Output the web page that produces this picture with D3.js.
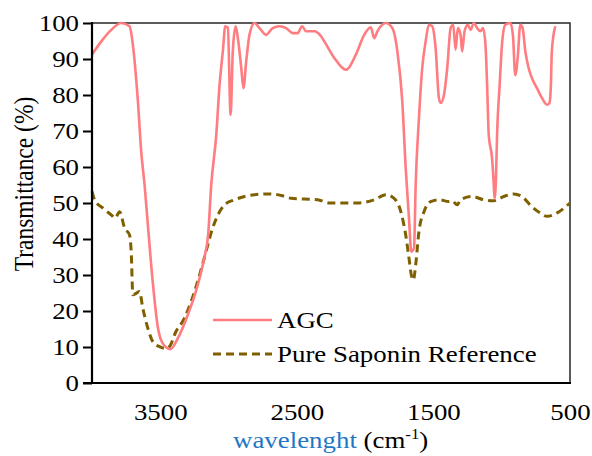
<!DOCTYPE html>
<html>
<head>
<meta charset="utf-8">
<script src="https://cdn.jsdelivr.net/npm/d3@7"></script>
<style>
  html, body { margin: 0; padding: 0; background: #fff; }
  svg { display: block; }
  svg text { font-family: "Liberation Serif", "Times New Roman", Times, "DejaVu Serif", serif; fill: #000; }
</style>
</head>
<body>
<svg id="chart" width="592" height="456"></svg>
<script>
// ---- Data ----
const seriesNames = ["AGC", "Pure Saponin Reference"];
const xTicks = [3500, 2500, 1500, 500];
const yTicks = [0, 10, 20, 30, 40, 50, 60, 70, 80, 90, 100];

const agcWavenumber = [4000, 3932, 3859, 3786, 3725, 3701, 3664, 3640, 3615, 3591, 3555, 3518, 3482, 3426, 3372, 3299, 3226, 3178, 3150, 3127, 3090, 3066, 3042, 3024, 3005, 2985, 2969, 2949, 2932, 2907, 2891, 2871, 2847, 2810, 2774, 2725, 2677, 2628, 2579, 2530, 2494, 2462, 2433, 2372, 2323, 2299, 2226, 2141, 2068, 2007, 1958, 1934, 1910, 1849, 1801, 1764, 1728, 1703, 1679, 1662, 1642, 1630, 1606, 1582, 1557, 1533, 1509, 1484, 1460, 1447, 1423, 1399, 1374, 1355, 1338, 1321, 1301, 1290, 1272, 1248, 1228, 1204, 1180, 1156, 1137, 1119, 1107, 1095, 1071, 1058, 1053, 1042, 1034, 1015, 998, 974, 937, 918, 901, 883, 864, 847, 827, 803, 779, 742, 706, 669, 650, 640, 633, 608];
const agcTransmittance = [91.2, 94.9, 98.1, 100, 99.1, 94, 78.3, 64.4, 55, 43.9, 28, 15.5, 11, 9.4, 12.4, 18.9, 27.2, 34.7, 41, 55, 69, 82.8, 92.1, 99.1, 98.6, 74.5, 92.1, 99.1, 95.8, 87.5, 81.9, 89.3, 96.7, 100, 98.6, 96.7, 98.6, 99.1, 98.6, 97.2, 97.2, 99.1, 97.7, 97.7, 96.3, 94.9, 90.3, 87, 91.2, 96.7, 98.8, 95.8, 97.7, 100, 98.6, 92.1, 78.2, 59.7, 45.8, 36.5, 37.4, 55, 73.6, 87.5, 94.9, 99.5, 99.1, 93, 79.2, 77.8, 80, 87.5, 98.6, 99.5, 92.6, 98.6, 96.7, 92.1, 97.7, 99.5, 98.1, 100, 98.6, 97.7, 98.6, 94, 82.8, 69, 62.5, 55, 51.3, 56.9, 69, 82.8, 94, 99.5, 100, 96.7, 85.5, 90.3, 99.5, 98.6, 92.1, 87.5, 84.7, 81.9, 79.2, 77.3, 77.8, 82.8, 92.1, 99.1];

const sapWavenumber = [4000, 3981, 3920, 3859, 3830, 3798, 3761, 3725, 3713, 3701, 3677, 3652, 3628, 3591, 3555, 3506, 3458, 3433, 3385, 3323, 3275, 3226, 3178, 3117, 3078, 3029, 2956, 2883, 2810, 2713, 2615, 2542, 2445, 2348, 2263, 2153, 2056, 1934, 1849, 1788, 1739, 1703, 1679, 1662, 1647, 1630, 1606, 1569, 1520, 1460, 1387, 1363, 1326, 1301, 1217, 1131, 1058, 985, 912, 852, 779, 717, 669, 597, 500];
const sapTransmittance = [53.2, 50.9, 48.6, 46.7, 45.8, 47.6, 43, 41.1, 36.5, 24.5, 24.9, 25.4, 20.8, 15.2, 11.5, 10.1, 9.6, 10.1, 14.3, 18, 22.6, 28.2, 34.7, 43, 46.7, 49.5, 50.9, 51.8, 52.3, 52.5, 52.1, 51.3, 51.1, 50.9, 50, 50, 50, 50.9, 52.3, 51.3, 47.6, 41.1, 34.7, 30, 28.6, 32.8, 42.1, 47.6, 50.4, 50.9, 50.4, 50.6, 49.5, 50.9, 51.8, 50.9, 50.6, 51.8, 52.5, 51.8, 49, 47.2, 46.3, 47.2, 50];

// ---- Layout ----
const FONT = '"Liberation Serif", "Times New Roman", Times, "DejaVu Serif", serif';
const svg = d3.select("#chart");
const L = 92, R = 570, T = 23, B = 383;
const FS = 24;
const SX = 1.12; // horizontal stretch of the text in the reference
const redColor = "#FF7C80";
const brownColor = "#7F6000";

const x = d3.scaleLinear().domain([4000, 500]).range([L, R]);
const y = d3.scaleLinear().domain([0, 100]).range([B, T]);

// plot frame
svg.append("rect")
  .attr("x", L).attr("y", T).attr("width", R - L).attr("height", B - T)
  .attr("fill", "none").attr("stroke", "#333").attr("stroke-width", 1.6);

const line = d3.line().x(d => x(d[0])).y(d => y(d[1])).curve(d3.curveMonotoneX);

const agcData = agcWavenumber.map((w, i) => [w, agcTransmittance[i]]);
const sapData = sapWavenumber.map((w, i) => [w, sapTransmittance[i]]);

svg.append("path").datum(sapData)
  .attr("d", line).attr("fill", "none")
  .attr("stroke", brownColor).attr("stroke-width", 3)
  .attr("stroke-dasharray", "8,5");

svg.append("path").datum(agcData)
  .attr("d", line).attr("fill", "none")
  .attr("stroke", redColor).attr("stroke-width", 2.6)
  .attr("stroke-linejoin", "round");

// Y axis
const yAxis = svg.append("g").attr("transform", `translate(${L},0)`)
  .call(d3.axisLeft(y).tickValues(yTicks).tickSizeInner(9).tickSizeOuter(0).tickPadding(4));
yAxis.attr("font-family", FONT).attr("font-size", FS);
yAxis.select(".domain").remove();
yAxis.selectAll(".tick line").attr("stroke", "#000").attr("stroke-width", 2);
yAxis.selectAll("text").attr("font-size", FS).style("font-family", FONT)
  .attr("x", -13 / SX).attr("transform", `scale(${SX},1)`);

// X axis
const xAxis = svg.append("g").attr("transform", `translate(0,${B})`)
  .call(d3.axisBottom(x).tickValues(xTicks).tickSizeInner(0).tickSizeOuter(0).tickPadding(20).tickFormat(d3.format("d")));
xAxis.attr("font-family", FONT).attr("font-size", FS);
xAxis.select(".domain").remove();
xAxis.selectAll("text").attr("font-size", FS).style("font-family", FONT)
  .attr("transform", `scale(${SX},1)`);

// axis lines
svg.append("line").attr("x1", L).attr("x2", L).attr("y1", T - 1).attr("y2", B + 1)
  .attr("stroke", "#000").attr("stroke-width", 2.2);
svg.append("line").attr("x1", L - 9).attr("x2", R + 1).attr("y1", B).attr("y2", B)
  .attr("stroke", "#000").attr("stroke-width", 2.2);

// Legend
const leg = svg.append("g");
const legItems = [
  {name: seriesNames[0], color: redColor, dash: null, w: 2.6, y: 320},
  {name: seriesNames[1], color: brownColor, dash: "8,5", w: 3, y: 354}
];
legItems.forEach(it => {
  leg.append("line").attr("x1", 213).attr("x2", 272).attr("y1", it.y).attr("y2", it.y)
    .attr("stroke", it.color).attr("stroke-width", it.w)
    .attr("stroke-dasharray", it.dash);
  leg.append("text").attr("transform", `translate(277,${it.y + 8}) scale(${SX},1)`)
    .attr("font-size", FS).style("font-family", FONT).text(it.name);
});

// Y title
svg.append("text")
  .attr("transform", `translate(33,184) rotate(-90) scale(1,${SX})`)
  .attr("text-anchor", "middle").attr("font-size", 23.5)
  .style("font-family", FONT)
  .text("Transmittance (%)");

// X title
const xt = svg.append("text").attr("transform", `translate(233,448) scale(${SX},1)`)
  .attr("font-size", FS).style("font-family", FONT);
xt.append("tspan").style("fill", "#1F77C4").text("wavelenght");
xt.append("tspan").text(" (cm");
xt.append("tspan").attr("font-size", 15).attr("dy", -9).text("-1");
xt.append("tspan").attr("dy", 9).text(")");
</script>
</body>
</html>
